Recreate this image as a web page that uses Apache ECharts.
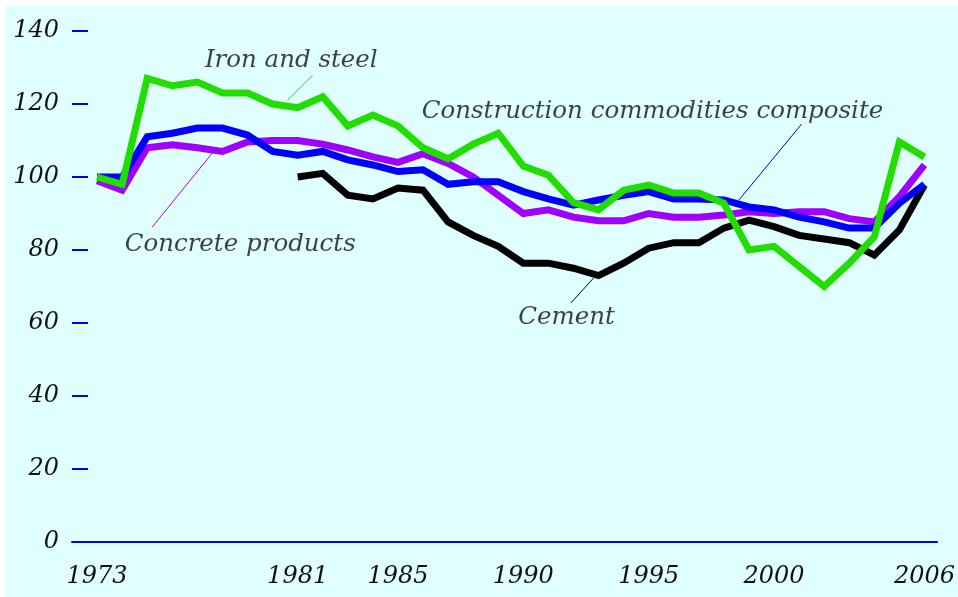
<!DOCTYPE html>
<html>
<head>
<meta charset="utf-8">
<script src="https://cdn.jsdelivr.net/npm/echarts@6/dist/echarts.min.js"></script>
<style>
  html, body { margin:0; padding:0; background:#fff; }
  #chart { position:absolute; left:5px; top:6px; width:953px; height:591px; }
</style>
</head>
<body>
<div id="chart"></div>
<script>
// ---- data ----
const years = [1973,1974,1975,1976,1977,1978,1979,1980,1981,1982,1983,1984,1985,1986,1987,1988,1989,
               1990,1991,1992,1993,1994,1995,1996,1997,1998,1999,2000,2001,2002,2003,2004,2005,2006];
const ironSteel = [100,98,127,125,126,123,123,120,119,122,114,117,114,108,105,109,112,
                   103,100.5,93,91,96.4,97.8,95.6,95.6,92.8,80,81,75.5,70,76.4,83.6,109.6,105.5];
const composite = [100,100,111,112,113.4,113.4,111.5,107,106,107,104.7,103.3,101.5,102,98,98.7,98.7,
                   96,94,92.3,93.7,95,96,94,94,93.7,91.8,91,89,87.7,86,86,92.8,98];
const concrete  = [99,96.4,108,108.8,108,107,109.6,110,110,109,107.4,105.5,104,106.4,103.7,100,95,
                   90,91,89,88,88,90,89,89,89.6,90.5,90,90.5,90.5,88.6,87.7,94.6,103.3];
const cement    = [null,null,null,null,null,null,null,null,100,101,95,94,97,96.4,87.7,84,81,
                   76.4,76.4,75,73,76.4,80.5,82,82,86,88.2,86.4,84,83,82,78.6,85.5,97.8];
const yearLabels = [1973,1981,1985,1990,1995,2000,2006];

// ---- annotations (text anchor + leader line, in data units) ----
const notes = [
  { text:'Iron and steel', at:[1977.3,132], color:'#22dd00', leader:[[1981.6,127.9],[1980.6,121.1]] },
  { text:'Construction commodities composite', at:[1985.95,117.8], color:'#0000ff', leader:[[2001.1,114.5],[1998.6,93.7]] },
  { text:'Concrete products', at:[1974.1,81.4], color:'#a000ff', leader:[[1975.2,86.3],[1977.6,106.6]] },
  { text:'Cement', at:[1989.8,61.4], color:'#000000', leader:[[1992.8,72.3],[1991.9,65.5]] }
];

const FONT = 'DejaVu Serif';
const pair = arr => years.map((y,i) => [y, arr[i]]);

function mainLine(name, arr, color){
  return {
    name, type:'line', data: pair(arr),
    showSymbol:false, symbol:'none', connectNulls:false,
    lineStyle:{ color, width:7, join:'miter' },
    silent:true, z:3
  };
}

const series = [
  mainLine('Cement', cement, '#000000'),
  mainLine('Concrete products', concrete, '#a000ff'),
  mainLine('Composite', composite, '#0000ff'),
  mainLine('Iron and steel', ironSteel, '#22dd00')
];

notes.forEach(n => {
  series.push({
    type:'line', data:n.leader, symbol:'none', silent:true, z:2,
    lineStyle:{ color:n.color, width:1 }
  });
  series.push({
    type:'scatter', data:[n.at], symbolSize:0, silent:true, z:5,
    label:{ show:true, position:'inside', align:'left', verticalAlign:'middle',
      formatter:n.text, fontFamily:FONT, fontStyle:'italic', fontSize:24.5, color:'#111' }
  });
});

const chart = echarts.init(document.getElementById('chart'));
chart.setOption({
  backgroundColor:'#e0ffff',
  animation:false,
  grid:{ left:67, right:20.5, top:25, bottom:55 },
  xAxis:{
    type:'value', min:1972, max:2006.5, interval:1,
    splitLine:{ show:false },
    axisTick:{ show:false },
    axisLine:{ lineStyle:{ color:'#0000ff', width:2 } },
    axisLabel:{
      margin:23, fontFamily:FONT, fontStyle:'italic', fontSize:24, color:'#111',
      showMinLabel:true, showMaxLabel:true,
      formatter: v => yearLabels.includes(v) ? String(v) : ''
    }
  },
  yAxis:{
    type:'value', min:0, max:140, interval:20,
    splitLine:{ show:false },
    axisLine:{ show:false },
    axisTick:{ show:true, inside:true, length:16, lineStyle:{ color:'#0000ff', width:2 } },
    axisLabel:{ margin:13, fontFamily:FONT, fontStyle:'italic', fontSize:24, color:'#111' }
  },
  series
});
</script>
</body>
</html>
